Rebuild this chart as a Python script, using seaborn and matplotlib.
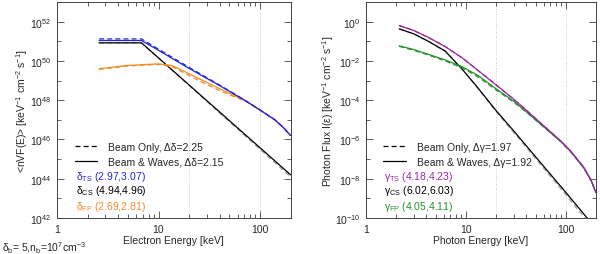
import seaborn as sns
import matplotlib
matplotlib.use("Agg")
import matplotlib.pyplot as plt
import matplotlib.ticker as mticker
from matplotlib.lines import Line2D
import numpy as np

# ---- data (log10 of the values) ----
# electron spectra <nVF(E)>
e_ts = [2.6, 6.8, 10, 20, 40, 71, 100, 140, 170, 200]
ts_waves = [51.04, 51.04, 50.54, 49.62, 48.74, 47.99, 47.5, 47.0, 46.6, 46.2]
ts_beam = [51.12, 51.12, 50.6, 49.67, 48.77, 48.0, 47.5, 47.0, 46.6, 46.2]

e_cs = [2.6, 6.8, 200]
cs_waves = [50.92, 50.92, 44.2]
cs_beam = [50.92, 50.92, 44.1]

e_fp = [2.6, 5, 10, 13.5, 22.9, 33.4, 48.6, 71, 100, 140, 170, 200]
fp_waves = [49.6, 49.77, 49.85, 49.77, 49.2, 48.78, 48.38, 47.98, 47.5, 47.0, 46.6, 46.2]
fp_beam = [49.57, 49.74, 49.82, 49.72, 49.1, 48.68, 48.3, 47.96, 47.5, 47.0, 46.6, 46.2]

# photon spectra I(eps)
e_ph = [2.15, 3, 4.2, 6.2, 9.2, 13.3, 19.8, 30, 40, 63, 90, 112, 150, 178, 200]
ph_ts = [-0.2, -0.45, -0.8, -1.27, -1.85, -2.5, -3.2, -3.95, -4.5, -5.4, -6.1, -6.6, -7.4, -8.05, -8.7]
ph_fp_waves = [-1.23, -1.42, -1.66, -1.95, -2.3, -2.75, -3.4, -4.05, -4.58, -5.45, -6.13, -6.63, -7.43, -8.07, -8.72]
ph_fp_beam = [-1.26, -1.46, -1.70, -2.0, -2.36, -2.82, -3.46, -4.1, -4.6, -5.46, -6.14, -6.64, -7.44, -8.08, -8.72]

e_ph_cs = [2.15, 3, 4.2, 6.2, 9.2, 13.3, 19.8, 31.3, 63, 100, 160, 200]
ph_cs_waves = [-0.37, -0.62, -1.0, -1.5, -2.43, -3.4, -4.5, -5.67, -7.5, -8.7, -9.95, -10.5]
ph_cs_beam = [-0.37, -0.62, -1.0, -1.5, -2.43, -3.42, -4.55, -5.75, -7.6, -8.82, -10.1, -10.7]

el_labels = ["δ$_{\\rm TS}$ (2.97,3.07)", "δ$_{\\rm CS}$ (4.94,4.96)", "δ$_{\\rm FP}$ (2.69,2.81)"]
ph_labels = ["γ$_{\\rm TS}$ (4.18,4.23)", "γ$_{\\rm CS}$ (6.02,6.03)", "γ$_{\\rm FP}$ (4.05,4.11)"]
el_legend = ["Beam Only, Δδ=2.25", "Beam & Waves, Δδ=2.15"]
ph_legend = ["Beam Only, Δγ=1.97", "Beam & Waves, Δγ=1.92"]

blue = "#2424d8"
orange = "#f08c28"
purple = "#9a2a9e"
green = "#22922a"
gray = "#a0a0a0"

sns.set_style("ticks")
plt.rcParams["font.family"] = ["Liberation Sans", "DejaVu Sans"]
plt.rcParams["mathtext.fontset"] = "custom"
plt.rcParams["mathtext.rm"] = "Liberation Sans"
plt.rcParams["mathtext.it"] = "Liberation Sans:italic"
fs = 7.5

fig = plt.figure(figsize=(6, 2.55), dpi=100)
ax1 = fig.add_axes([0.095, 0.1412, 0.3893, 0.847])
ax2 = fig.add_axes([0.61, 0.1412, 0.3833, 0.847])

lw = 0.9
dash = (4, 2.5)


def curve(ax, x, logy, color, dashed=False):
    sns.lineplot(x=x, y=10 ** np.array(logy), ax=ax, color=color, lw=lw)
    if dashed:
        ax.lines[-1].set_dashes(dash)


# left panel
curve(ax1, e_cs, cs_beam, gray, dashed=True)
curve(ax1, e_cs, cs_waves, "black")
curve(ax1, e_fp, fp_waves, orange)
curve(ax1, e_fp, fp_beam, orange, dashed=True)
curve(ax1, e_ts, ts_waves, blue)
curve(ax1, e_ts, ts_beam, blue, dashed=True)

# right panel
curve(ax2, e_ph_cs, ph_cs_beam, gray, dashed=True)
curve(ax2, e_ph_cs, ph_cs_waves, "black")
curve(ax2, e_ph, ph_fp_waves, green)
curve(ax2, e_ph, ph_fp_beam, green, dashed=True)
curve(ax2, e_ph, ph_ts, purple)
curve(ax2, e_ph, ph_ts, purple, dashed=True)


def style(ax, ylo, yhi, xlabel, ylabel, legend_labels, txt_labels, txt_colors, lab_x):
    ax.set_xscale("log")
    ax.set_yscale("log")
    ax.set_xlim(1, 200)
    ax.set_ylim(10.0 ** ylo, 10.0 ** yhi)
    for xv in [20, 100]:
        ax.axvline(xv, color="#c8c8c8", lw=0.7, ls=":", zorder=0)
    ax.xaxis.set_major_locator(mticker.FixedLocator([1, 10, 100]))
    ax.xaxis.set_major_formatter(mticker.FixedFormatter(["1", "10", "100"]))
    ax.xaxis.set_minor_locator(mticker.LogLocator(base=10, subs=np.arange(2, 10), numticks=20))
    ax.xaxis.set_minor_formatter(mticker.NullFormatter())
    major = [10.0 ** p for p in range(ylo, yhi, 2)]
    minor = [10.0 ** p for p in range(ylo + 1, yhi + 1, 2)]
    ax.yaxis.set_major_locator(mticker.FixedLocator(major))
    ax.yaxis.set_major_formatter(mticker.FuncFormatter(
        lambda v, p: "10$^{%d}$" % round(np.log10(v))))
    ax.yaxis.set_minor_locator(mticker.FixedLocator(minor))
    ax.yaxis.set_minor_formatter(mticker.NullFormatter())
    ax.tick_params(which="both", direction="in", top=True, right=True,
                   labelsize=fs, width=0.6, color="#444444")
    ax.tick_params(which="major", length=5, pad=4)
    ax.tick_params(which="minor", length=3)
    for s in ax.spines.values():
        s.set_linewidth(0.7)
        s.set_color("#444444")
    ax.set_xlabel(xlabel, fontsize=fs, labelpad=1)
    ax.set_ylabel(ylabel, fontsize=fs)
    ax.yaxis.set_label_coords(lab_x, 0.5)
    handles = [Line2D([], [], color="black", lw=lw, dashes=dash),
               Line2D([], [], color="black", lw=lw)]
    ax.legend(handles, legend_labels, loc="upper left", bbox_to_anchor=(0.075, 0.352),
              frameon=False, fontsize=fs, borderpad=0, borderaxespad=0,
              handlelength=2.2, handletextpad=1.0, labelspacing=0.45)
    for lab, c, yy in zip(txt_labels, txt_colors, [0.194, 0.13, 0.056]):
        ax.text(0.08, yy, lab, color=c, fontsize=fs, transform=ax.transAxes, va="center")


style(ax1, 42, 53, "Electron Energy [keV]",
      "<nVF(E)> [keV$^{-1}$ cm$^{-2}$ s$^{-1}$]",
      el_legend, el_labels, [blue, "black", orange], -0.115)
style(ax2, -10, 1, "Photon Energy [keV]",
      "Photon Flux I(ε) [keV$^{-1}$ cm$^{-2}$ s$^{-1}$]",
      ph_legend, ph_labels, [purple, "black", green], -0.13)

fig.text(0.004, 0.028, "δ$_{\\rm b}$= 5,n$_{\\rm b}$=10$^{7}$cm$^{-3}$", fontsize=fs, va="center")

fig.savefig("out.png", dpi=100, facecolor="white")
